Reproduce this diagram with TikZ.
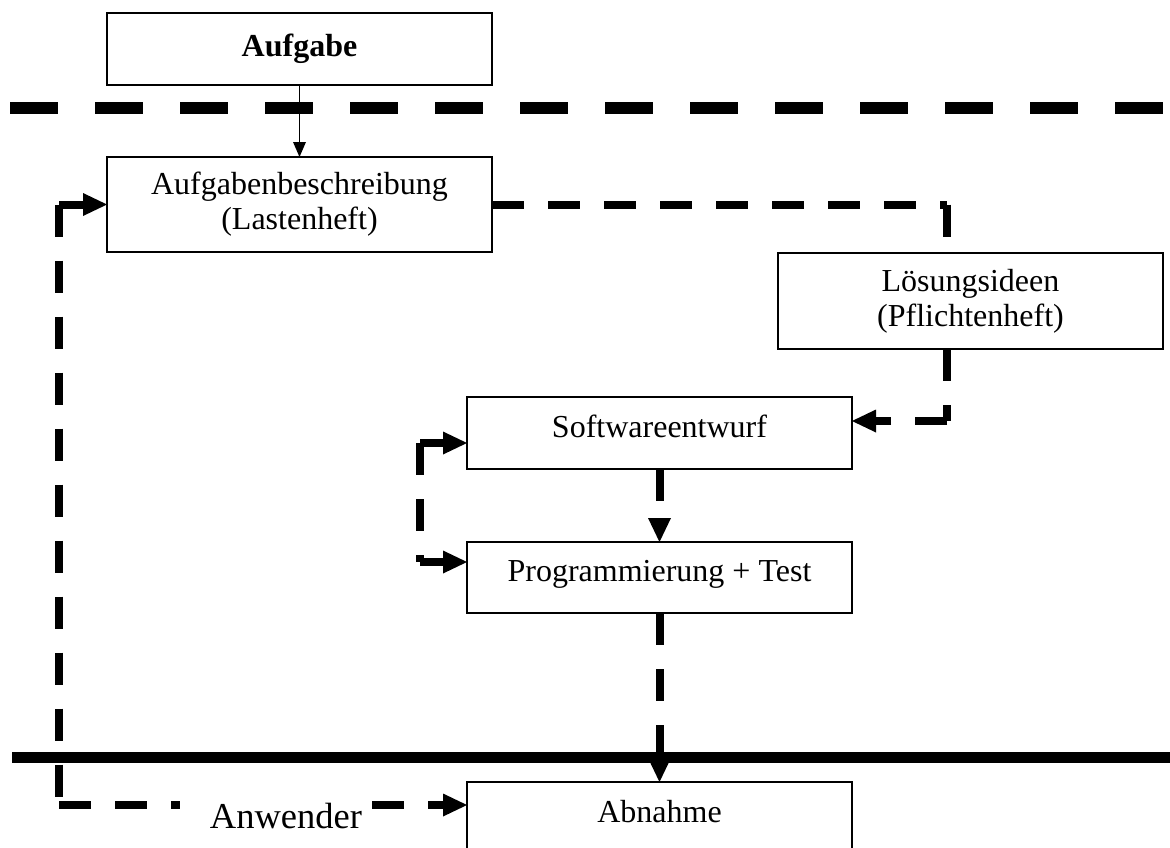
\documentclass[tikz,border=0pt]{standalone}
\usepackage{fontspec}
\setmainfont{Liberation Serif}
\usetikzlibrary{arrows.meta}
\begin{document}
\begin{tikzpicture}[x=1pt,y=-1pt,
  box/.style={draw,line width=1.5pt,minimum width=385pt,inner sep=0pt,outer sep=0pt,
    font=\fontsize{32}{35}\selectfont,align=center},
  raised/.style={text height=23pt,text depth=15pt},
  dashline/.style={line width=8pt,dash pattern=on 32pt off 24pt},
  flow/.style={dashline,-{Triangle[length=24pt,width=23pt,line width=0pt]}},
  thinarrow/.style={line width=1.5pt,-{Triangle[length=15pt,width=13pt,line width=0pt]}},
]
\useasboundingbox (0,0) rectangle (1170,847);
\fill[white] (0,0) rectangle (1170,847);

% process boxes
\node[box,minimum height=72pt] (AU) at (299.5,49) {\bfseries Aufgabe};
\node[box,minimum height=95pt] (AB) at (299.5,204.5) {Aufgabenbeschreibung\\(Lastenheft)};
\node[box,minimum height=96pt] (LI) at (970.5,301) {Lösungsideen\\(Pflichtenheft)};
\node[box,raised,minimum height=72pt] (SE) at (659.5,433) {Softwareentwurf};
\node[box,raised,minimum height=71pt] (PT) at (659.5,577.5) {Programmierung + Test};
\node[box,raised,minimum height=72pt] (AN) at (659.5,818) {Abnahme};
\node[anchor=base,inner xsep=10pt,inner ysep=4pt,font=\fontsize{36.5}{40}\selectfont]
  (user) at (276,828) {\hspace*{20pt}Anwender};

% phase boundaries
\draw[line width=12pt,dash pattern=on 48pt off 37pt] (10,108) -- (1170,108);
\draw[line width=11pt] (12,757) -- (1170,757);

% corner points of the elbow connectors
\coordinate (k1) at (947,204.5);
\coordinate (k2) at (947,421);
\coordinate (k3) at (420,443);
\coordinate (k4) at (420,562);
\coordinate (k5) at (59,204.5);
\coordinate (k6) at (59,805);

% connectors
\draw[thinarrow] (AU) -- (AB);
\draw[dashline] (AB.east) -- (k1);
\draw[dashline] (k1) -- (k1 |- LI.north);
\draw[dashline] (k2 |- LI.south) -- (k2);
\draw[flow] (k2) -- (k2 -| SE.east);
\draw[flow] (SE) -- (PT);
\draw[flow] (k3) -- (k3 -| SE.west);
\draw[dashline] (k3) -- (k4);
\draw[flow] (k4) -- (k4 -| PT.west);
\draw[flow] (PT) -- (AN);
\draw[flow] (k5) -- (AB.west);
\draw[dashline] (k5) -- (k6);
\draw[dashline] (k6) -- (k6 -| user.west);
\draw[flow] (k6 -| user.east) -- (k6 -| AN.west);
\end{tikzpicture}
\end{document}
